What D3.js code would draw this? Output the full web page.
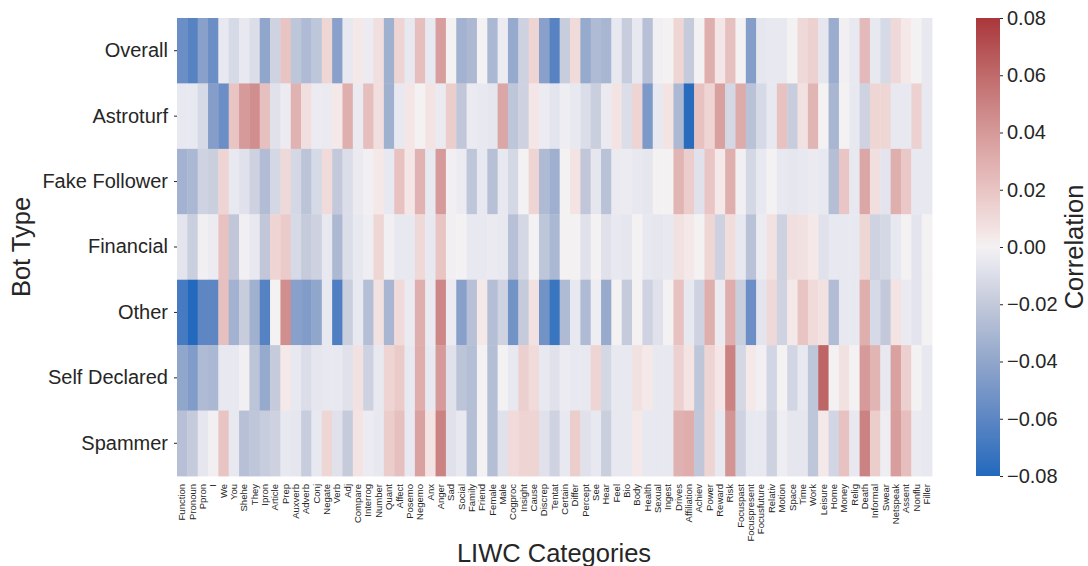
<!DOCTYPE html>
<html>
<head>
<meta charset="utf-8">
<script src="https://cdn.jsdelivr.net/npm/d3@7"></script>
<style>
body { margin: 0; background: #fff; }
text { font-family: "Liberation Sans", Arial, sans-serif; fill: #262626; }
</style>
</head>
<body>
<script>
var width = 1088, height = 566;

var botTypes = ["Overall", "Astroturf", "Fake Follower", "Financial", "Other", "Self Declared", "Spammer"];

var categories = ["Function","Pronoun","Ppron","I","We","You","Shehe","They","Ipron","Article","Prep","Auxverb","Adverb","Conj","Negate","Verb","Adj","Compare","Interrog","Number","Quant","Affect","Posemo","Negemo","Anx","Anger","Sad","Social","Family","Friend","Female","Male","Cogproc","Insight","Cause","Discrep","Tentat","Certain","Differ","Percept","See","Hear","Feel","Bio","Body","Health","Sexual","Ingest","Drives","Affiliation","Achiev","Power","Reward","Risk","Focuspast","Focuspresent","Focusfuture","Relativ","Motion","Space","Time","Work","Leisure","Home","Money","Relig","Death","Informal","Swear","Netspeak","Assent","Nonflu","Filler"];

// one array per bot type, in category order
var overall = [-0.055,-0.062,-0.043,-0.055,-0.005,-0.012,-0.005,-0.010,-0.040,-0.015,0.020,-0.022,-0.028,-0.022,0.012,-0.043,-0.005,0.004,-0.003,
  0.008,-0.034,0.013,-0.005,0.023,-0.005,0.038,0.000,-0.033,-0.029,0.000,-0.030,-0.003,-0.038,-0.016,0.013,-0.043,-0.062,
  -0.018,0.010,-0.038,-0.028,-0.031,-0.005,-0.018,-0.005,-0.025,-0.001,0.000,0.012,-0.019,0.000,0.030,0.005,0.022,0.000,-0.045,
  -0.006,-0.005,-0.005,0.000,0.011,0.014,-0.006,-0.036,-0.001,-0.005,0.025,-0.005,-0.012,0.011,0.004,0.000,-0.005];
var astroturf = [-0.005,-0.005,-0.012,-0.045,-0.055,0.020,0.040,0.045,0.022,-0.008,-0.003,0.028,0.008,-0.003,-0.004,0.004,0.030,-0.004,0.023,
  0.008,-0.034,-0.005,0.005,0.000,0.006,-0.004,0.016,-0.021,-0.004,-0.005,-0.006,0.034,-0.022,-0.016,0.005,-0.003,-0.007,
  -0.002,-0.005,-0.010,-0.017,-0.004,0.006,-0.010,0.013,-0.048,-0.005,0.006,-0.029,-0.078,0.021,0.013,0.037,-0.013,0.032,-0.024,
  -0.012,-0.005,0.021,-0.018,0.007,0.027,0.000,-0.031,0.000,-0.005,-0.015,0.012,0.012,-0.005,-0.005,0.014,-0.005];
var fakeFollower = [-0.033,-0.030,-0.015,-0.017,0.013,-0.005,-0.008,-0.016,-0.027,-0.013,0.011,-0.013,-0.023,-0.012,0.010,-0.020,-0.010,-0.004,-0.001,
  0.004,-0.005,0.021,0.005,0.028,-0.005,0.040,-0.001,-0.003,-0.022,-0.005,-0.025,-0.005,-0.013,0.000,0.013,-0.028,-0.035,
  0.000,0.006,-0.021,-0.006,-0.024,-0.004,-0.003,-0.005,-0.006,0.000,0.000,0.027,0.016,-0.008,0.019,0.004,0.030,-0.001,-0.013,
  -0.005,0.000,-0.005,-0.006,-0.005,-0.004,-0.005,-0.026,0.019,-0.005,0.034,0.008,-0.007,0.030,0.018,-0.005,-0.005];
var financial = [-0.007,-0.017,-0.001,-0.003,0.021,-0.021,-0.001,-0.005,-0.021,0.013,0.017,-0.012,-0.019,-0.016,-0.005,-0.029,-0.010,-0.005,-0.002,
  0.012,-0.001,-0.005,-0.005,0.011,-0.005,0.020,-0.001,0.000,-0.005,-0.005,-0.004,-0.005,-0.025,-0.013,0.000,-0.022,-0.030,
  0.000,0.000,-0.008,0.000,-0.008,-0.005,-0.006,0.000,-0.005,-0.006,-0.005,0.007,0.004,0.000,0.012,-0.016,0.009,-0.005,-0.024,
  -0.003,0.007,-0.016,0.008,0.007,0.004,-0.008,-0.005,-0.005,-0.005,0.012,-0.015,-0.013,-0.005,0.000,-0.007,0.000];
var other = [-0.068,-0.080,-0.060,-0.060,0.022,-0.033,-0.018,-0.034,-0.063,0.000,0.045,-0.043,-0.046,-0.040,-0.005,-0.065,-0.017,-0.005,-0.026,
  0.007,-0.031,0.010,-0.004,0.030,-0.004,0.048,-0.003,-0.043,-0.025,0.004,-0.026,-0.015,-0.052,-0.019,0.007,-0.052,-0.072,
  -0.028,-0.005,-0.028,-0.002,-0.037,0.000,-0.019,0.000,-0.015,-0.008,0.000,0.021,-0.005,-0.015,0.030,-0.004,0.031,-0.017,-0.055,
  -0.007,0.011,-0.015,0.004,0.020,0.010,0.007,-0.027,-0.005,-0.005,0.030,-0.012,-0.020,0.006,-0.004,-0.007,0.000];
var selfDeclared = [-0.040,-0.046,-0.028,-0.030,-0.005,-0.005,-0.001,-0.023,-0.038,-0.019,0.004,-0.005,-0.010,-0.006,-0.005,-0.005,-0.008,0.007,-0.016,
  -0.005,0.013,0.017,-0.005,0.031,-0.005,0.040,-0.008,-0.023,-0.026,0.000,-0.026,0.000,-0.005,0.015,0.010,-0.005,-0.008,
  -0.003,-0.005,-0.005,0.013,-0.013,-0.005,-0.005,0.007,0.004,-0.005,-0.005,0.014,0.006,-0.022,0.013,0.005,0.050,-0.013,0.004,
  -0.001,-0.014,0.000,-0.014,-0.005,-0.022,0.062,0.000,0.007,0.000,0.040,0.027,-0.005,0.036,0.015,0.000,-0.005];
var spammer = [-0.025,-0.019,-0.006,-0.001,0.020,-0.005,-0.025,-0.022,-0.018,-0.016,-0.005,-0.006,-0.018,-0.005,0.012,-0.008,-0.019,0.006,-0.003,
  -0.005,0.016,0.022,-0.005,0.036,0.006,0.050,-0.008,-0.005,-0.026,0.000,-0.026,-0.008,0.010,0.013,0.013,-0.008,-0.015,
  -0.005,0.016,-0.008,-0.005,-0.017,-0.005,-0.005,0.004,-0.005,-0.005,-0.005,0.029,0.031,-0.021,0.013,-0.005,0.042,-0.015,-0.005,
  -0.005,-0.016,-0.002,-0.006,-0.006,-0.022,0.004,-0.014,0.021,-0.005,0.050,0.016,-0.002,0.038,0.023,-0.004,-0.005];

var colorbarTicks = [0.08, 0.06, 0.04, 0.02, 0.00, -0.02, -0.04, -0.06, -0.08];

var rows = [overall, astroturf, fakeFollower, financial, other, selfDeclared, spammer];
var cells = [];
rows.forEach(function (r, i) {
    r.forEach(function (v, j) {
        cells.push({bot: botTypes[i], cat: categories[j], value: v});
    });
});

// approximation of seaborn "vlag"
var vlag = d3.scaleLinear()
    .domain([0, 0.125, 0.25, 0.375, 0.47, 0.5, 0.53, 0.625, 0.75, 0.875, 1])
    .range(["#2369bd", "#5d86c3", "#91a6cb", "#c3c9da", "#e8e8f0", "#f3f1f2", "#f4e6e6", "#e8c4c3", "#d59a99", "#c06a6b", "#a9373b"])
    .interpolate(d3.interpolateRgb)
    .clamp(true);
var color = function (v) { return vlag((v + 0.08) / 0.16); };

var svg = d3.select("body").append("svg").attr("width", width).attr("height", height);

var x = d3.scaleBand().domain(categories).range([177, 932]);
var y = d3.scaleBand().domain(botTypes).range([18, 476]);

svg.append("g").selectAll("rect").data(cells).enter().append("rect")
    .attr("x", (d) => x(d.cat))
    .attr("y", (d) => y(d.bot))
    .attr("width", x.bandwidth() + 0.4)
    .attr("height", y.bandwidth() + 0.4)
    .attr("fill", (d) => color(d.value));

// y axis
var yAxis = svg.append("g").attr("transform", "translate(177,0)")
    .call(d3.axisLeft(y).tickSize(3).tickPadding(6));
yAxis.select(".domain").remove();
yAxis.selectAll("line").attr("stroke", "#262626");
yAxis.selectAll("text").attr("font-size", 20).attr("fill", "#262626");

// x axis, labels standing on end
var xAxis = svg.append("g").attr("transform", "translate(0,476)")
    .call(d3.axisBottom(x).tickSize(0));
xAxis.select(".domain").remove();
xAxis.selectAll("text")
    .attr("font-size", 9.5)
    .attr("fill", "#262626")
    .attr("transform", "rotate(-90)")
    .attr("text-anchor", "end")
    .attr("dy", "0.33em")
    .attr("x", -8)
    .attr("y", 0);

svg.append("text").text("Bot Type")
    .attr("font-size", 25.5)
    .attr("text-anchor", "middle")
    .attr("transform", "translate(30,247) rotate(-90)");

svg.append("text").text("LIWC Categories")
    .attr("font-size", 25.5)
    .attr("text-anchor", "middle")
    .attr("x", 554).attr("y", 562);

// colorbar
var defs = svg.append("defs");
var grad = defs.append("linearGradient").attr("id", "cbar")
    .attr("x1", 0).attr("y1", 1).attr("x2", 0).attr("y2", 0);
d3.range(0, 1.0001, 0.02).forEach(function (t) {
    grad.append("stop").attr("offset", t).attr("stop-color", vlag(t));
});
svg.append("rect").attr("x", 976).attr("y", 18).attr("width", 24).attr("height", 458)
    .attr("fill", "url(#cbar)");

var cScale = d3.scaleLinear().domain([-0.08, 0.08]).range([476, 18]);
var cAxis = svg.append("g").attr("transform", "translate(1000,0)")
    .call(d3.axisRight(cScale).tickValues(colorbarTicks).tickSize(3).tickPadding(4)
        .tickFormat(function (d) { return d3.format(".2f")(d).replace("-", "\u2212"); }));
cAxis.select(".domain").remove();
cAxis.selectAll("line").attr("stroke", "#262626");
cAxis.selectAll("text").attr("font-size", 20).attr("fill", "#262626");

svg.append("text").text("Correlation")
    .attr("font-size", 25.5)
    .attr("text-anchor", "middle")
    .attr("transform", "translate(1083,247) rotate(-90)");
</script>
</body>
</html>
